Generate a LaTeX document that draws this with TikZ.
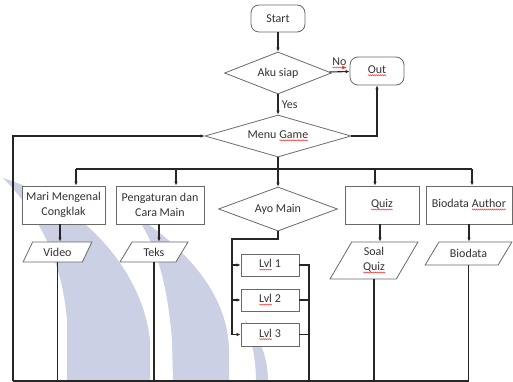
\documentclass[tikz,border=0pt]{standalone}
\usepackage{fontspec}
\setmainfont{Carlito}
\usepackage{xcolor}
\usetikzlibrary{shapes.geometric, arrows.meta, decorations.pathmorphing}
\definecolor{wmblue}{RGB}{203,208,229}
\definecolor{boxgray}{RGB}{105,105,105}
\newcommand\squig[1]{\tikz[baseline=(w.base), sharp corners]{\node[shape=rectangle, draw=none, fill=none, inner sep=0pt, outer sep=0pt, minimum width=0pt, minimum height=0pt](w){#1};
    \draw[red!85, sharp corners, line width=0.4pt, decorate, decoration={snake, amplitude=0.6pt, segment length=2pt}] ([yshift=-1.6pt]w.base west) -- ([yshift=-1.6pt]w.base east);}}

\begin{document}
\begin{tikzpicture}[x=1pt, y=-1pt,
      font=\fontsize{12}{15}\selectfont,
      base/.style={draw=boxgray, line width=0.8pt, fill=white, text=black!80, inner sep=1pt, align=center},
      term/.style={base, rounded corners=8pt, minimum width=54pt, minimum height=27pt},
      dec/.style={base, diamond, aspect=3.5, inner sep=0pt},
      proc/.style={base, rectangle, minimum height=38pt},
      io/.style={base, trapezium, trapezium stretches=true},
      conn/.style={line width=1.1pt, black!85},
      arr/.style={conn, -{Latex[length=4pt,width=3.5pt]}},
      wm/.style={fill=wmblue, draw=none}]
      \useasboundingbox (0,0) rectangle (513,382);
      % watermark
      \fill[wm] (3,178) .. controls (80,202) and (142,268) .. (150,340) -- (150,382) -- (67,382) -- (67,320)
            .. controls (62,262) and (40,215) .. (3,178);
      \fill[wm] (135,215) .. controls (195,255) and (228,300) .. (229,350) -- (229,382) -- (173,382) -- (172,340)
            .. controls (168,290) and (158,245) .. (135,215);
      \fill[wm] (245,320) .. controls (262,340) and (268,360) .. (268,382) -- (256,382)
            .. controls (256,360) and (252,340) .. (245,320);

      \node[term] (start) at (278,18.5) {Start};
      \node[dec, minimum width=107pt, minimum height=42pt] (aku) at (278,73) {Aku siap};
      \node[term, minimum height=28pt] (out) at (377,71) {\squig{Out}};
      \node[dec, minimum width=146pt, minimum height=42pt] (menu) at (278,136) {Menu \squig{Game}};

      \node[proc, minimum width=83pt] (mari) at (63.5,205) {Mari Mengenal\\Congklak};
      \node[proc, minimum width=88pt] (atur) at (160,205) {Pengaturan dan\\Cara Main};
      \node[dec, minimum width=119pt, minimum height=44pt] (ayo) at (278,209) {Ayo Main};
      \node[proc, minimum width=74pt] (quiz) at (382,205) {\squig{Quiz}};
      \node[proc, minimum width=86pt] (author) at (469,205) {Biodata \squig{Author}};

      \node[io, trapezium left angle=61, trapezium right angle=119, minimum width=69pt, minimum height=20pt] (video) at (57.5,252) {Video};
      \node[io, trapezium left angle=59, trapezium right angle=121, minimum width=68pt, minimum height=20pt] (teks) at (154,252) {Teks};
      \node[io, trapezium left angle=67, trapezium right angle=113, minimum width=88pt, minimum height=37pt] (soal) at (374,260.5) {Soal\\\squig{Quiz}};
      \node[io, trapezium left angle=49, trapezium right angle=131, minimum width=87pt, minimum height=23pt] (bio) at (468.5,253.5) {Biodata};

      \node[proc, minimum width=58pt, minimum height=22pt] (lvl1) at (270,265) {\squig{Lvl} 1};
      \node[proc, minimum width=58pt, minimum height=22pt] (lvl2) at (270,300) {\squig{Lvl} 2};
      \node[proc, minimum width=58pt, minimum height=23pt] (lvl3) at (270,334.5) {\squig{Lvl} 3};

      \coordinate (lp) at (13,381);
      \coordinate (b1) at (76,169);
      \coordinate (b2) at (176,169);
      \coordinate (b3) at (278,169);
      \coordinate (b4) at (375,169);
      \coordinate (b5) at (472,169);
      \coordinate (ay) at (232,239);
      \coordinate (rc) at (309,381);

      \draw[arr] (start) -- (aku);
      \draw[arr] (aku) -- node[above=-1pt, text=black!80]{\squig{No}} (out);
      \draw[arr] (aku) -- node[right=0pt, text=black!80]{Yes} (menu);
      \draw[arr] (menu.east) -| (out.south);
      \draw[arr] (lp) |- (menu.west);
      \draw[conn] (lp) -- (bio.south |- lp);

      \draw[conn] (menu.south) -- (b3);
      \draw[conn] (b1) -- (b5);
      \draw[arr] (b1) -- (b1 |- mari.north);
      \draw[arr] (b2) -- (b2 |- atur.north);
      \draw[arr] (b3) -- (ayo.north);
      \draw[arr] (b4) -- (b4 |- quiz.north);
      \draw[arr] (b5) -- (b5 |- author.north);

      \draw[arr] ([xshift=-3.5pt]mari.south) -- ([xshift=-3.5pt]mari.south |- video.north);
      \draw[arr] ([xshift=-1pt]atur.south) -- ([xshift=-1pt]atur.south |- teks.north);
      \draw[arr] ([xshift=-2pt]quiz.south) -- ([xshift=-2pt]quiz.south |- soal.north);
      \draw[arr] (author.south) -- (author.south |- bio.north);

      \draw[conn] (video.south) -- (video.south |- lp);
      \draw[conn] (teks.south) -- (teks.south |- lp);
      \draw[conn] (soal.south) -- (soal.south |- lp);
      \draw[conn] (bio.south) -- (bio.south |- lp);

      \draw[conn] (ayo.south) |- (ay) -- (ay |- lvl3);
      \draw[arr] (ay |- lvl1) -- (lvl1);
      \draw[arr] (ay |- lvl2) -- (lvl2);
      \draw[arr] (ay |- lvl3) -- (lvl3);
      \draw[conn] (lvl1.east) -| (rc);
      \draw[conn] (lvl2.east) -- (lvl2 -| rc);
      \draw[conn] (lvl3.east) -- (lvl3 -| rc);
    \end{tikzpicture}
\end{document}
